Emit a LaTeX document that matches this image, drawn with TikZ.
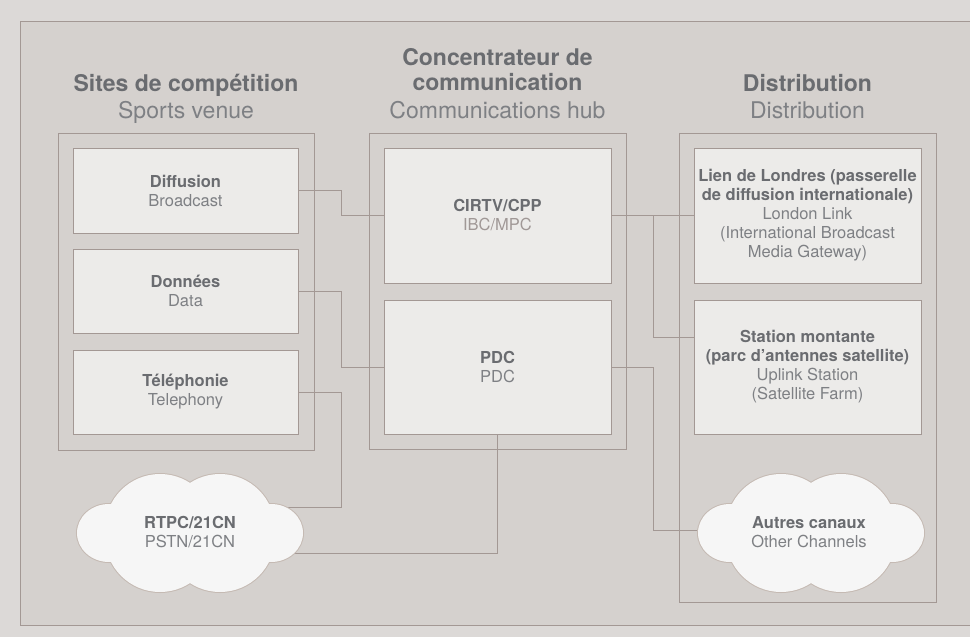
\documentclass[tikz,border=0pt]{standalone}
\usepackage{fontspec}
\setmainfont{TeX Gyre Heros}
\usetikzlibrary{positioning}

\definecolor{pagebg}{HTML}{DCD9D7}
\definecolor{framebg}{HTML}{D5D1CE}
\definecolor{boxbg}{HTML}{ECEBE9}
\definecolor{linec}{HTML}{A39894}
\definecolor{cloudfill}{HTML}{F6F6F6}
\definecolor{cloudline}{HTML}{C5BAB3}
\definecolor{tbold}{HTML}{6A6C70}
\definecolor{treg}{HTML}{7E8084}
\definecolor{tsoft}{HTML}{A09896}

\newcommand\btxt[1]{{\color{tbold}\bfseries #1}}
\newcommand\rtxt[1]{{\color{treg}#1}}

\begin{document}
\begin{tikzpicture}[x=1pt,y=-1pt,
  wire/.style={draw=linec,line width=1pt},
  group/.style={draw=linec,fill=framebg,line width=1pt,inner sep=0pt},
  unit/.style={draw=linec,fill=boxbg,line width=1pt,align=center,inner sep=2pt,
    minimum width=225,font=\fontsize{16.5}{19}\selectfont},
  hbold/.style={anchor=base,inner sep=0pt,text=tbold,font=\fontsize{23}{25}\selectfont\bfseries},
  hreg/.style={anchor=base,inner sep=0pt,text=treg,font=\fontsize{23}{25}\selectfont},
  cloudtext/.style={align=center,inner sep=0pt,font=\fontsize{16.5}{19}\selectfont}]

\useasboundingbox (0,0) rectangle (970,637);
\fill[pagebg] (0,0) rectangle (970,637);
\draw[group] (20,21) rectangle (985,625);

% column headings
\node[hbold] (h1) at (186,91) {Sites de compétition};
\node[hreg] (h1s) at (186,118) {Sports venue};
\node[hbold] (h2a) at (497.5,65.5) {Concentrateur de};
\node[hbold] (h2b) at (497.5,90.5) {communication};
\node[hreg] (h2s) at (497.5,118) {Communications hub};
\node[hbold] (h3) at (807.5,91) {Distribution};
\node[hreg] (h3s) at (807.5,118) {Distribution};

% column containers
\node[group,minimum width=256,minimum height=317] (venue) at (186,291.5) {};
\node[group,minimum width=257,minimum height=316] (hub) at (497.5,291) {};
\node[group,minimum width=257,minimum height=469] (dist) at (807.5,367.5) {};

% sports venue units
\node[unit,minimum height=85] (diff) at (185.5,190.5) {\btxt{Diffusion}\\\rtxt{Broadcast}};
\node[unit,minimum height=84] (data) at (185.5,291) {\btxt{Données}\\\rtxt{Data}};
\node[unit,minimum height=84] (tel) at (185.5,392) {\btxt{Téléphonie}\\\rtxt{Telephony}};

% hub units
\node[unit,minimum width=227,minimum height=135] (cirtv) at (497.5,215.5) {\btxt{CIRTV/CPP}\\{\color{tsoft}IBC/MPC}};
\node[unit,minimum width=227,minimum height=134] (pdc) at (497.5,367) {\btxt{PDC}\\\rtxt{PDC}};

% distribution units
\node[unit,minimum width=227,minimum height=135] (london) at (807.5,215.5)
  {\btxt{Lien de Londres (passerelle}\\\btxt{de diffusion internationale)}\\\rtxt{London Link}\\\rtxt{(International Broadcast}\\\rtxt{Media Gateway)}};
\node[unit,minimum width=227,minimum height=134] (station) at (807.5,367)
  {\btxt{Station montante}\\\btxt{(parc d’antennes satellite)}\\\rtxt{Uplink Station}\\\rtxt{(Satellite Farm)}};

% connector ends hidden under the clouds
\coordinate (rtpcA) at (270,507);
\coordinate (rtpcB) at (270,553);
\coordinate (otherA) at (740,530);
\coordinate (fork) at (653,215.5);

% connectors
\draw[wire] (diff.east) -- ++(43,0) |- (cirtv.west);
\draw[wire] (data.east) -- ++(43,0) |- (pdc.west);
\draw[wire] (tel.east) -- ++(43,0) |- (rtpcA);
\draw[wire] (pdc.south) |- (rtpcB);
\draw[wire] (cirtv.east) -- (london.west);
\draw[wire] (fork) |- ([yshift=30pt]station.west);
\draw[wire] (pdc.east) -- ++(42,0) |- (otherA);

% clouds: outline pass, then fill pass to keep only the outer contour
\foreach \cx/\cy in {190/533, 811/533}{
  \begin{scope}[shift={(\cx,\cy)}]
    \path[draw=cloudline,line width=2pt]
      (-30,-4) circle[radius=55] (30,-4) circle[radius=55]
      (-30,4) circle[radius=55] (30,4) circle[radius=55]
      (-81,0) ellipse[x radius=32,y radius=29] (81,0) ellipse[x radius=32,y radius=29];
    \path[fill=cloudfill]
      (-30,-4) circle[radius=55] (30,-4) circle[radius=55]
      (-30,4) circle[radius=55] (30,4) circle[radius=55]
      (-81,0) ellipse[x radius=32,y radius=29] (81,0) ellipse[x radius=32,y radius=29];
  \end{scope}
}
\node[cloudtext] (rtpc) at (190,532) {\btxt{RTPC/21CN}\\\rtxt{PSTN/21CN}};
\node[cloudtext] (other) at (809,532) {\btxt{Autres canaux}\\\rtxt{Other Channels}};

\end{tikzpicture}
\end{document}
